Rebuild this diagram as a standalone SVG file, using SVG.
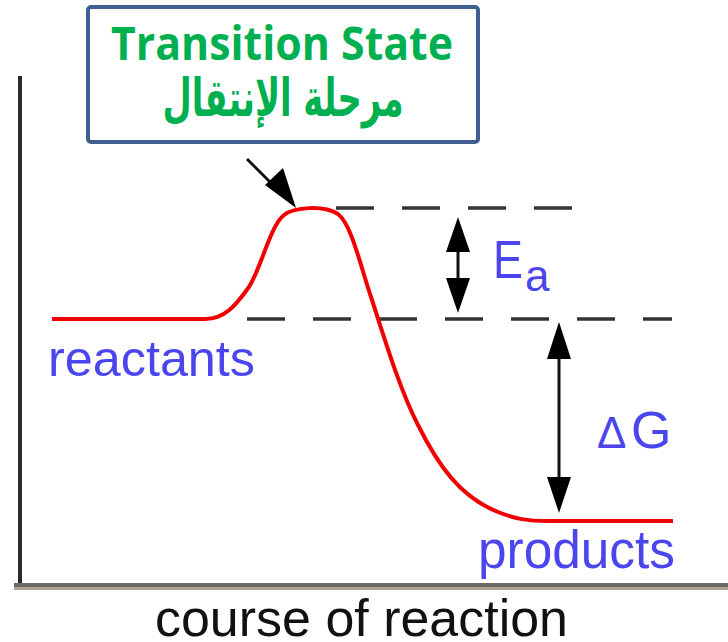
<svg xmlns="http://www.w3.org/2000/svg" width="728" height="642" viewBox="0 0 728 642">
<defs>
<style>
.lbl{font-family:"Liberation Sans",Arial,sans-serif;fill:#4b45ee;}
.dash{stroke:#333;stroke-width:3.5;stroke-dasharray:38 28;fill:none;}
.arr{stroke:#111;stroke-width:3;fill:none;}
.head{fill:#000;}
.green{font-family:"Open Sans","Liberation Sans",sans-serif;font-weight:700;fill:#00b050;}
</style>
</defs>
<rect width="728" height="642" fill="#fff"/>
<g id="axes">
<rect x="18" y="76" width="4" height="512" fill="#2a2a2a"/>
<rect x="14" y="583" width="714" height="4" fill="#6c6a64"/>
<rect x="14" y="587" width="714" height="3" fill="#aaa197"/>
<text x="155" y="636" font-family="Liberation Sans,Arial,sans-serif" font-size="52" fill="#111" textLength="413" lengthAdjust="spacingAndGlyphs">course of reaction</text>
</g>
<g id="connectors">
<line class="dash" x1="247" y1="319" x2="672" y2="319"/>
<line class="dash" x1="336" y1="208" x2="574" y2="208"/>
<path d="M52,319 L205,319 C225,319 236,305 249,287 C262,266 270,226 284,215 C294,207 324,205 338,214 C352,225 360,265 372,300 C385,340 400,390 418,425 C438,465 460,497 498,512 C515,519 528,521 548,521 L673,521" fill="none" stroke="#f00000" stroke-width="4"/>
<line class="arr" x1="247" y1="159" x2="282" y2="194"/>
<polygon class="head" points="296,208 265,185 283,168"/>
<line class="arr" x1="458" y1="240" x2="458" y2="290"/>
<polygon class="head" points="458,217 446,252 470,252"/>
<polygon class="head" points="458,313 446,278 470,278"/>
<line class="arr" x1="559" y1="350" x2="559" y2="485"/>
<polygon class="head" points="559,322 547,359 571,359"/>
<polygon class="head" points="559,513 547,477 571,477"/>
</g>
<g id="reactants">
<text class="lbl" x="48" y="376" font-size="50" textLength="207" lengthAdjust="spacingAndGlyphs">reactants</text>
</g>
<g id="products">
<text class="lbl" x="478" y="568" font-size="54" textLength="197" lengthAdjust="spacingAndGlyphs">products</text>
</g>
<g id="Ea">
<text class="lbl" x="493" y="278" font-size="54" textLength="30" lengthAdjust="spacingAndGlyphs">E</text>
<text class="lbl" x="525" y="291" font-size="44">a</text>
</g>
<g id="dG">
<text class="lbl" x="597" y="448" font-size="44">Δ</text>
<text class="lbl" x="631" y="448" font-size="52">G</text>
</g>
<g id="transition-state">
<rect x="88" y="7" width="390" height="135" rx="3" fill="#fff" stroke="#3e5f8f" stroke-width="4"/>
<text class="green" x="111" y="60" font-size="46" textLength="342" lengthAdjust="spacingAndGlyphs">Transition State</text>
<text x="283" y="116" text-anchor="middle" font-family="DejaVu Sans,'Noto Sans',sans-serif" font-weight="700" font-size="52" fill="#00b050" textLength="241" lengthAdjust="spacingAndGlyphs" direction="rtl">مرحلة الإنتقال</text>
</g>
</svg>
